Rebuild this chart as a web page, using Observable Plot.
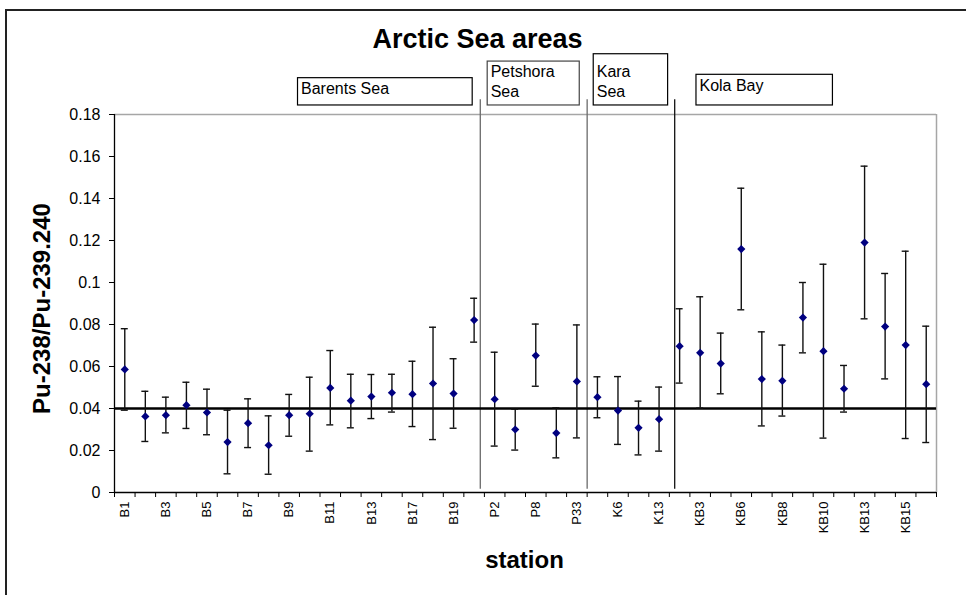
<!DOCTYPE html>
<html><head><meta charset="utf-8">
<script src="https://cdn.jsdelivr.net/npm/d3@7"></script>
<script src="https://cdn.jsdelivr.net/npm/@observablehq/plot@0.6"></script>
<style>
html,body{margin:0;padding:0;background:#fff;overflow:hidden;}
#wrap{position:relative;width:966px;height:595px;overflow:hidden;}
#border{position:absolute;left:5px;top:9px;width:1000px;height:1000px;border:2px solid #222;box-sizing:border-box;}
#chart{position:absolute;left:0;top:0;}
</style></head><body>
<div id="wrap"><div id="border"></div><div id="chart"></div></div>
<script>
// ---- data ----
const stations = ["B1","B2","B3","B4","B5","B6","B7","B8","B9","B10","B11","B12","B13","B15","B17","B18","B19","B20",
  "P2","P5","P8","P20","P33","K3","K6","K10","K13",
  "KB2","KB3","KB5","KB6","KB7","KB8","KB9","KB10","KB12","KB13","KB14","KB15","KB16"];
const ratio = [0.0586,0.0362,0.0368,0.0416,0.0381,0.0240,0.0330,0.0225,0.0368,0.0375,0.0498,0.0437,0.0457,0.0475,0.0468,0.0519,0.0471,0.0821,
  0.0444,0.0300,0.0652,0.0283,0.0529,0.0454,0.0390,0.0308,0.0349,
  0.0697,0.0665,0.0614,0.1159,0.0540,0.0532,0.0833,0.0673,0.0494,0.1190,0.0790,0.0702,0.0516];
const upper = [0.0780,0.0482,0.0454,0.0525,0.0492,0.0392,0.0446,0.0365,0.0467,0.0549,0.0676,0.0563,0.0562,0.0563,0.0625,0.0787,0.0637,0.0925,
  0.0668,0.0397,0.0802,0.0403,0.0798,0.0551,0.0552,0.0435,0.0502,
  0.0875,0.0932,0.0759,0.1449,0.0765,0.0702,0.1000,0.1087,0.0605,0.1554,0.1043,0.1149,0.0792];
const lower = [0.0392,0.0243,0.0284,0.0305,0.0275,0.0089,0.0214,0.0087,0.0268,0.0197,0.0322,0.0308,0.0352,0.0383,0.0314,0.0252,0.0306,0.0716,
  0.0221,0.0202,0.0506,0.0165,0.0260,0.0356,0.0229,0.0179,0.0197,
  0.0521,0.0402,0.0470,0.0870,0.0317,0.0364,0.0665,0.0259,0.0383,0.0827,0.0541,0.0257,0.0238];
const tickLabels = ["B1","B3","B5","B7","B9","B11","B13","B17","B19","P2","P8","P33","K6","K13","KB3","KB6","KB8","KB10","KB13","KB15"];
const yTicks = [0,0.02,0.04,0.06,0.08,0.1,0.12,0.14,0.16,0.18];
const reference = 0.04;
const regionNames = ["Barents Sea","Petshora\nSea","Kara\nSea","Kola Bay"];
const title = "Arctic Sea areas";
const xTitle = "station";
const yTitle = "Pu-238/Pu-239.240";

// ---- layout (scale units) ----
const boxGeom = [
  {x1: 8.43, x2: 16.93, y1: 0.1843, y2: 0.1973, ty: 0.1954, stroke: "#000"},
  {x1: 17.66, x2: 22.14, y1: 0.1843, y2: 0.2052, ty: 0.2036, stroke: "#444"},
  {x1: 22.82, x2: 26.44, y1: 0.1843, y2: 0.2087, ty: 0.2036, stroke: "#000"},
  {x1: 27.82, x2: 34.46, y1: 0.1843, y2: 0.1989, ty: 0.1971, stroke: "#000"}
];
const separators = [{x: 17.30, c: "#6a6a6a"}, {x: 22.50, c: "#6a6a6a"}, {x: 26.76, c: "#111"}];

const data = stations.map((s, i) => ({i, station: s, v: ratio[i], hi: upper[i], lo: lower[i]}));
const boxes = regionNames.map((label, k) => ({label, ...boxGeom[k]}));
const n = stations.length;
const boundaries = d3.range(n + 1).map(k => k - 0.5);
const font = "'Liberation Sans', Arial, Helvetica, sans-serif";

const chart = Plot.plot({
  width: 966, height: 595,
  marginLeft: 114, marginRight: 30, marginTop: 114, marginBottom: 103,
  style: {fontFamily: font, background: "transparent", overflow: "visible", color: "#000"},
  x: {type: "linear", domain: [-0.5, n - 0.5], axis: null},
  y: {domain: [0, 0.18], axis: null},
  marks: [
    Plot.ruleY([0.18], {stroke: "#a6a6a6", strokeWidth: 1.5}),
    Plot.ruleX([n - 0.5], {stroke: "#a6a6a6", strokeWidth: 1.5}),
    Plot.ruleX(separators, {x: "x", y1: 0.0015, y2: 0.187, stroke: "c", strokeWidth: 1.3}),
    Plot.ruleY([reference], {stroke: "#000", strokeWidth: 2.5}),
    Plot.ruleX(data, {x: "i", y1: "lo", y2: "hi", stroke: "#111", strokeWidth: 1.4}),
    Plot.ruleY(data, {y: "hi", x1: d => d.i - 0.17, x2: d => d.i + 0.17, stroke: "#111", strokeWidth: 1.4}),
    Plot.ruleY(data, {y: "lo", x1: d => d.i - 0.17, x2: d => d.i + 0.17, stroke: "#111", strokeWidth: 1.4}),
    Plot.dot(data, {x: "i", y: "v", symbol: "diamond2", r: 3.7, fill: "#000080", stroke: "none"}),
    Plot.ruleX([-0.5], {stroke: "#000", strokeWidth: 1.3}),
    Plot.ruleY([0], {stroke: "#000", strokeWidth: 1.3}),
    Plot.axisY({ticks: yTicks, tickSize: 5, tickPadding: 9, tickFormat: d => String(d), fontSize: 16}),
    Plot.axisX({ticks: boundaries, tickSize: 5, tickFormat: () => ""}),
    Plot.text(tickLabels, {x: d => stations.indexOf(d), text: d => d, frameAnchor: "bottom", rotate: -90, textAnchor: "end", lineAnchor: "middle", dy: 9, fontSize: 13}),
    Plot.rect(boxes, {x1: "x1", x2: "x2", y1: "y1", y2: "y2", fill: "white", stroke: "stroke", strokeWidth: 1.2}),
    Plot.text(boxes, {x: "x1", y: "ty", text: "label", textAnchor: "start", lineAnchor: "top", dx: 3, dy: -2, fontSize: 16, lineHeight: 1.25}),
    Plot.text([title], {frameAnchor: "top", textAnchor: "middle", lineAnchor: "middle", dx: -48, dy: -75, fontSize: 27, fontWeight: "bold"}),
    Plot.text([xTitle], {frameAnchor: "bottom", textAnchor: "middle", lineAnchor: "middle", dx: -1, dy: 68, fontSize: 24, fontWeight: "bold"}),
    Plot.text([yTitle], {frameAnchor: "left", rotate: -90, textAnchor: "middle", lineAnchor: "middle", dx: -72, dy: 5, fontSize: 24, fontWeight: "bold"})
  ]
});
document.getElementById("chart").appendChild(chart);
</script></body></html>
